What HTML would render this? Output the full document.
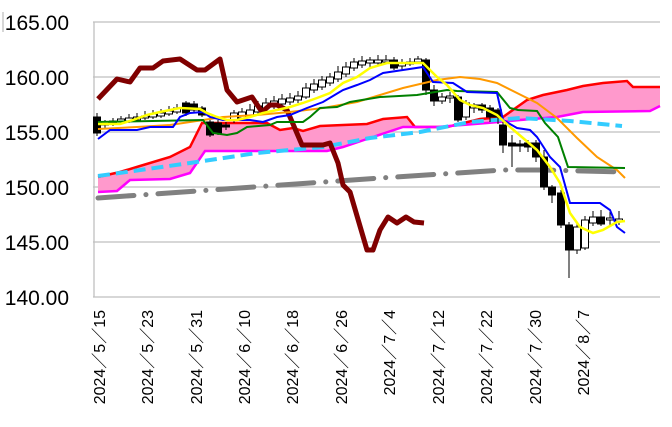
<!DOCTYPE html>
<html><head><meta charset="utf-8"><style>
body{margin:0;background:#fff;width:672px;height:427px;overflow:hidden}
svg{display:block}
.yl{font-family:"Liberation Sans",sans-serif;font-size:21px;fill:#000}
.xl{font-family:"Liberation Sans","Noto Sans CJK JP",sans-serif;font-size:16px;fill:#000}
</style></head><body>
<svg id="s" width="672" height="427" viewBox="0 0 672 427">
<g stroke="#bfbfbf" stroke-width="1.3">
<line x1="93" y1="22" x2="660" y2="22"/><line x1="93" y1="77" x2="660" y2="77"/>
<line x1="93" y1="132" x2="660" y2="132"/><line x1="93" y1="187" x2="660" y2="187"/>
<line x1="93" y1="242" x2="660" y2="242"/><line x1="93" y1="297" x2="660" y2="297"/>
<line x1="94" y1="22" x2="94" y2="297"/>
<line x1="3" y1="12" x2="3" y2="32"/>
</g>
<g class="yl" text-anchor="end">
<text x="69" y="30">165.00</text><text x="69" y="85">160.00</text><text x="69" y="140">155.00</text>
<text x="69" y="195">150.00</text><text x="69" y="250">145.00</text><text x="69" y="305">140.00</text>
</g>
<g class="xl" text-anchor="end">
<text transform="translate(105,310) rotate(-90)">2024／5／15</text>
<text transform="translate(153,310) rotate(-90)">2024／5／23</text>
<text transform="translate(202,310) rotate(-90)">2024／5／31</text>
<text transform="translate(250,310) rotate(-90)">2024／6／10</text>
<text transform="translate(298,310) rotate(-90)">2024／6／18</text>
<text transform="translate(347,310) rotate(-90)">2024／6／26</text>
<text transform="translate(395,310) rotate(-90)">2024／7／4</text>
<text transform="translate(444,310) rotate(-90)">2024／7／12</text>
<text transform="translate(492,310) rotate(-90)">2024／7／22</text>
<text transform="translate(541,310) rotate(-90)">2024／7／30</text>
<text transform="translate(589,310) rotate(-90)">2024／8／7</text>
</g>
<!-- kumo -->
<polygon fill="#ff99cc" points="98,177 120,172 140,166 170,157 190,147 202,123 212,123 267,123 280,130 293,128 303,131 320,126 343,125 367,124 383,119 407,117 415,127 447,127 480,119 503,117 527,100 543,95 567,90 583,86 603,83 627,81 633,87 660,87 660,106 650,111 583,112 557,117 520,120 487,123 437,127 403,127 370,138 343,147 327,151 205,151 190,173 170,179 130,180 117,191 98,192"/>
<polyline fill="none" stroke="#ff0000" stroke-width="2.5" points="98,177 120,172 140,166 170,157 190,147 202,123 212,123 267,123 280,130 293,128 303,131 320,126 343,125 367,124 383,119 407,117 415,127 447,127 480,119 503,117 527,100 543,95 567,90 583,86 603,83 627,81 633,87 660,87"/>
<polyline fill="none" stroke="#ff00ff" stroke-width="2.5" points="98,192 117,191 130,180 170,179 190,173 205,151 327,151 343,147 370,138 403,127 437,127 487,123 520,120 557,117 583,112 650,111 660,106"/>
<polyline fill="none" stroke="#808080" stroke-width="5" stroke-linecap="round" stroke-dasharray="36,12,0.1,12" points="98,198 380,178 503,170 543,170 625,172"/>
<polyline fill="none" stroke="#33ccff" stroke-width="4" stroke-dasharray="12,6" points="98,176 190,163 257,153 323,147 370,138 420,132 470,122 520,118 570,121 622,126"/>
<g id="c"></g>
<polyline fill="none" stroke="#800000" stroke-width="5" stroke-linejoin="round" points="98,99 117,79 130,82 140,68 153,68 163,61 180,59 197,70 205,70 220,59 227,90 237,102 252,97 262,112 270,105 277,105 287,110 302,145 323,145 330,143 338,163 343,185 350,192 367,250 373,250 380,230 388,217 397,223 406,217 414,222 424,223"/>
<polyline fill="none" stroke="#ff9900" stroke-width="2" points="98,129 137,127 170,125 190,122 223,117 257,115 290,112 323,108 357,102 380,95 403,88 437,80 460,77 480,79 497,83 517,93 537,103 557,118 577,138 597,157 617,170 625,178"/>
<polyline fill="none" stroke="#008000" stroke-width="2" points="98,122 203,120 213,133 227,135 237,133 247,127 270,125 277,122 303,122 310,117 320,108 337,107 350,102 380,97 417,95 447,90 457,91 497,92 510,108 518,110 537,111 545,123 558,137 568,167 625,168"/>
<polyline fill="none" stroke="#0000ff" stroke-width="2" points="98,139 110,130 137,130 150,127 173,127 180,117 190,113 203,112 210,117 223,120 250,120 263,122 277,117 290,115 307,108 323,102 343,90 357,85 370,80 383,73 403,70 423,67 433,82 453,83 467,92 497,93 503,120 517,128 530,130 537,137 550,157 560,167 570,203 600,203 610,210 617,227 625,233"/>
<polyline fill="none" stroke="#ffff00" stroke-width="2.5" points="98,124 120,124 133,120 147,115 160,112 180,108 200,109 207,113 217,117 227,120 237,120 250,117 263,113 277,110 290,107 303,103 317,98 330,93 343,83 357,77 370,68 387,63 423,63 437,77 447,85 460,100 470,105 483,108 497,115 510,127 523,138 537,150 550,167 560,183 570,213 580,227 593,233 603,230 617,222 625,221"/>
</svg>
<script>
var d=[[97,117,133,113,136],[105,125,122,120,129],[113,123,121,118,126],[121,122,119,116,124],[129,121,118,114,123],[137,120,117,113,122],[145,118,116,111,120],[153,117,114,110,119],[161,116,113,109,118],[169,114,111,106,116],[177,112,108,104,114],[186,103,113,101,116],[194,104,110,101,112],[202,108,115,106,117],[210,122,135,120,137],[218,123,133,120,135],[226,125,127,122,130],[234,120,113,110,123],[242,118,112,108,121],[250,115,110,104,117],[258,112,106,101,115],[266,108,103,98,110],[274,106,101,96,109],[282,104,99,94,107],[290,102,98,93,105],[298,100,96,91,103],[306,97,88,83,99],[314,90,84,79,93],[322,87,80,76,90],[330,83,77,73,86],[338,79,72,66,82],[346,74,67,62,77],[354,68,62,58,71],[362,65,61,56,68],[370,63,60,57,67],[378,63,60,55,66],[386,62,60,55,64],[394,60,68,57,70],[402,66,63,59,71],[410,64,62,58,66],[418,62,59,56,64],[426,60,90,58,95],[434,90,101,85,106],[442,101,97,93,104],[450,98,96,92,103],[458,97,120,95,122],[466,117,103,100,120],[474,108,105,103,113],[482,105,110,103,113],[490,108,117,105,122],[498,110,117,108,124],[503,125,145,122,153],[512,143,146,135,167],[520,144,146,140,152],[528,143,147,140,152],[536,143,157,140,162],[544,157,187,150,190],[552,187,195,185,203],[561,193,225,190,228],[569,225,250,222,278],[577,250,227,224,254],[585,248,220,216,250],[593,223,217,211,226],[601,217,224,210,226],[610,220,218,212,226],[619,221,219,211,225]];
var g=document.getElementById('c'),s='';
d.forEach(function(a){var x=a[0],o=a[1],c=a[2],h=a[3],l=a[4],t=Math.min(o,c),b=Math.max(o,c),blk=c>o;
s+='<line x1="'+x+'" y1="'+h+'" x2="'+x+'" y2="'+l+'" stroke="#000" stroke-width="1"/>';
s+='<rect x="'+(x-3.5)+'" y="'+t+'" width="7" height="'+Math.max(b-t,1)+'" fill="'+(blk?'#000':'#fff')+'" stroke="#000" stroke-width="1"/>';});
g.innerHTML=s;
</script>
</body></html>
